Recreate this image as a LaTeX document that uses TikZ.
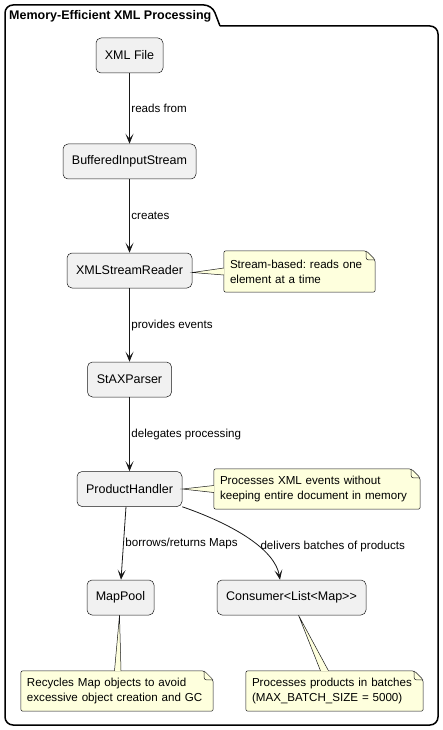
\documentclass[tikz,border=0pt]{standalone}
\usepackage{fontspec}
\setmainfont{Liberation Sans}
\usetikzlibrary{arrows.meta,backgrounds}
\definecolor{boxfill}{HTML}{F1F1F1}
\definecolor{notefill}{HTML}{FEFFDD}
\definecolor{linecol}{HTML}{181818}
\frenchspacing

\begin{document}
\begin{tikzpicture}[x=1pt,y=-1pt,
  comp/.style={draw=linecol, line width=0.5pt, fill=boxfill, rounded corners=5pt,
    minimum height=35pt, inner sep=0pt, font=\fontsize{12.5}{15}\selectfont},
  note/.style={inner xsep=6pt, inner ysep=0pt, minimum height=40pt, align=left,
    font=\fontsize{11.6}{15}\selectfont},
  notebox/.style={draw=linecol, line width=0.5pt, fill=notefill, rounded corners=2pt},
  flow/.style={draw=linecol, line width=0.8pt, -{Stealth[length=10pt,width=8pt,inset=5pt]}},
  lbl/.style={right, inner sep=1.5pt, font=\fontsize{11.6}{14}\selectfont},
  tie/.style={draw=linecol, line width=0.5pt}]

\useasboundingbox (0,0) rectangle (443,730);

\draw[line width=1.5pt, rounded corners=8pt] (220,26) -- (438,26) -- (438,725) -- (5,725) -- (5,5) -- (212,5) -- (220,26);
\node[anchor=west, inner sep=0pt, font=\fontsize{12.5}{15}\selectfont\bfseries] (title) at (9,16) {Memory-Efficient XML Processing};

\node[comp, minimum width=67pt] (xml) at (129.5,55.5) {XML File};
\node[comp, minimum width=133pt] (bis) at (129.5,161.5) {BufferedInputStream};
\node[comp, minimum width=125pt] (xsr) at (129.5,270.5) {XMLStreamReader};
\node[comp, minimum width=84pt] (stax) at (129.5,379.5) {StAXParser};
\node[comp, minimum width=105pt] (ph) at (129.5,489) {ProductHandler};
\node[comp, minimum width=67pt] (pool) at (120.5,597.5) {MapPool};
\node[comp, minimum width=149pt] (cons) at (291.5,597.5) {Consumer<List<Map>{}>};

\node[note, text width=139pt, minimum height=41pt] (xsrnote) at (299.5,271.5) {Stream-based: reads one\\element at a time};
\node[note, text width=194pt] (phnote) at (317,489) {Processes XML events without\\keeping entire document in memory};
\node[note, text width=180pt] (poolnote) at (117,691) {Recycles Map objects to avoid\\excessive object creation and GC};
\node[note, text width=165pt] (consnote) at (334.5,691) {Processes products in batches\\(MAX\_BATCH\_SIZE = 5000)};

\begin{scope}[on background layer]
\foreach \n in {xsrnote,phnote,poolnote,consnote}{
  \draw[notebox] ([xshift=-9pt]\n.north east) -- (\n.north west) -- (\n.south west) -- (\n.south east) -- ([yshift=-9pt]\n.north east) -- cycle;
  \draw[notebox, fill=none] ([xshift=-9pt]\n.north east) |- ([yshift=-9pt]\n.north east);
}
\end{scope}

\draw[flow] (xml) -- node[lbl] {reads from} (bis);
\draw[flow] (bis) -- node[lbl] {creates} (xsr);
\draw[flow] (xsr) -- node[lbl] {provides events} (stax);
\draw[flow] (stax) -- node[lbl] {delegates processing} (ph);
\draw[flow] ([xshift=-3.5pt]ph.south) -- node[lbl] {borrows/returns Maps} ([xshift=0.5pt]pool.north);
\draw[flow] (ph.south east) .. controls (235,525) and (275,550) .. node[lbl, pos=0.6] {delivers batches of products} ([xshift=-11.5pt]cons.north);

\fill[notefill] ([yshift=-2pt]xsr.east) -- ([yshift=3.5pt]xsrnote.west) -- ([yshift=-3.5pt]xsrnote.west) -- cycle;
\draw[tie] ([yshift=3.5pt]xsrnote.west) -- ([yshift=-2pt]xsr.east) -- ([yshift=-3.5pt]xsrnote.west);
\fill[notefill] (ph.east) -- ([yshift=3.5pt]phnote.west) -- ([yshift=-3.5pt]phnote.west) -- cycle;
\draw[tie] ([yshift=3.5pt]phnote.west) -- (ph.east) -- ([yshift=-3.5pt]phnote.west);
\fill[notefill] ([xshift=-1pt]pool.south) -- ([xshift=-2.5pt]poolnote.north) -- ([xshift=4pt]poolnote.north) -- cycle;
\draw[tie] ([xshift=-2.5pt]poolnote.north) -- ([xshift=-1pt]pool.south) -- ([xshift=4pt]poolnote.north);
\fill[notefill] ([xshift=7pt]cons.south) -- ([xshift=-14pt]consnote.north) -- ([xshift=-6pt]consnote.north) -- cycle;
\draw[tie] ([xshift=-14pt]consnote.north) -- ([xshift=7pt]cons.south) -- ([xshift=-6pt]consnote.north);
\end{tikzpicture}
\end{document}
